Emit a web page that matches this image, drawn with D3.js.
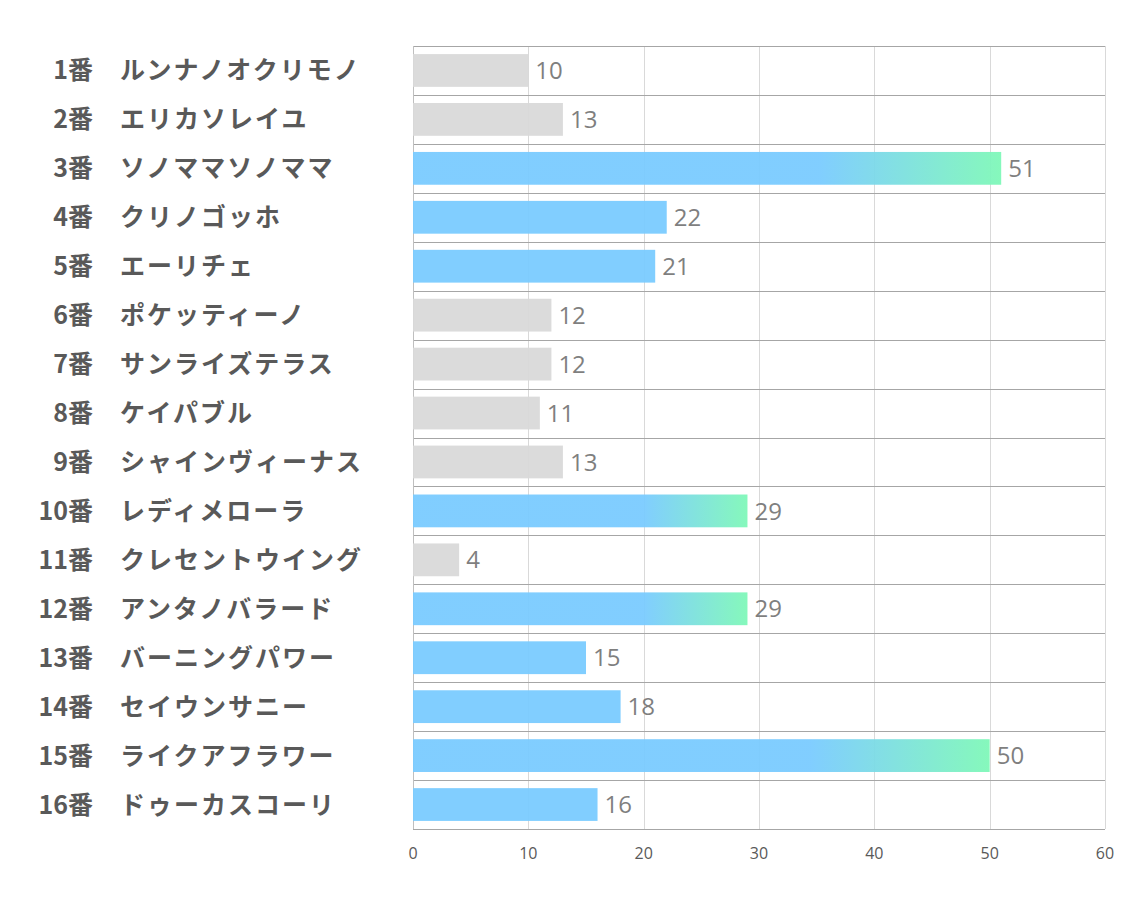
<!DOCTYPE html>
<html><head><meta charset="utf-8">
<script src="https://cdn.jsdelivr.net/npm/d3@7"></script>
<style>body{margin:0;background:#fff}</style>
</head><body>
<svg id="c" width="1134" height="907"></svg>
<script>
const numbers = ["1番","2番","3番","4番","5番","6番","7番","8番","9番","10番","11番","12番","13番","14番","15番","16番"];
const names = ["ルンナノオクリモノ","エリカソレイユ","ソノママソノママ","クリノゴッホ","エーリチェ","ポケッティーノ","サンライズテラス","ケイパブル","シャインヴィーナス","レディメローラ","クレセントウイング","アンタノバラード","バーニングパワー","セイウンサニー","ライクアフラワー","ドゥーカスコーリ"];
const values = [10,13,51,22,21,12,12,11,13,29,4,29,15,18,50,16];
const kinds = ["gray","gray","grad","blue","blue","gray","gray","gray","gray","grad","gray","grad","blue","blue","grad","blue"];
const xTicks = [0,10,20,30,40,50,60];

(function(){
const svg = d3.select("#c");
const pL = 413, pR = 1105, pT = 46, pB = 829;
const x = d3.scaleLinear().domain([0,60]).range([pL,pR]);
const y = d3.scaleBand().domain(d3.range(values.length)).range([pT,pB]).paddingInner(0).paddingOuter(0);
const bh = y.bandwidth()*0.67;

const defs = svg.append("defs");
values.forEach((v,i)=>{
  if(kinds[i]==="grad"){
    const g = defs.append("linearGradient").attr("id","g"+i).attr("x1","0").attr("x2","1").attr("y1","0").attr("y2","0");
    g.append("stop").attr("offset","0.69").attr("stop-color","#7acbff");
    g.append("stop").attr("offset","1").attr("stop-color","#7ff8b8");
  }
});

svg.append("g").selectAll("line").data(xTicks).join("line")
  .attr("x1",d=>Math.round(x(d))+0.5).attr("x2",d=>Math.round(x(d))+0.5).attr("y1",pT).attr("y2",pB)
  .attr("stroke","#d9d9d9").attr("stroke-width",1);

svg.append("g").selectAll("line").data(d3.range(values.length+1)).join("line")
  .attr("x1",pL).attr("x2",pR)
  .attr("y1",d=>Math.round(pT+d*y.step())+0.5).attr("y2",d=>Math.round(pT+d*y.step())+0.5)
  .attr("stroke","#a6a6a6").attr("stroke-width",1);

svg.append("line").attr("x1",pL+0.5).attr("x2",pL+0.5).attr("y1",pT).attr("y2",pB)
  .attr("stroke","#bfbfbf");

svg.append("g").selectAll("rect").data(values).join("rect")
  .attr("x",x(0)).attr("y",(d,i)=>y(i)+(y.bandwidth()-bh)/2)
  .attr("width",d=>x(d)-x(0)).attr("height",bh)
  .attr("fill",(d,i)=>kinds[i]==="gray"?"#d9d9d9":kinds[i]==="blue"?"#7acbff":`url(#g${i})`)
  .attr("fill-opacity",0.95);

svg.append("g").selectAll("text").data(values).join("text")
  .attr("x",d=>x(d)+7).attr("y",(d,i)=>y(i)+y.bandwidth()/2)
  .attr("dy","0.36em").attr("font-family","'Open Sans','Noto Sans',sans-serif")
  .attr("font-size",24).attr("fill","#7f7f7f").text(d=>d);

const lab = svg.append("g").attr("font-family","'Noto Sans CJK JP','Noto Sans',sans-serif")
  .attr("font-weight","bold").attr("font-size",25).attr("fill","#595959");
lab.selectAll("text.n").data(numbers).join("text").attr("class","n")
  .attr("x",93).attr("y",(d,i)=>y(i)+y.bandwidth()/2).attr("dy","0.36em")
  .attr("text-anchor","end").text(d=>d);
lab.selectAll("text.m").data(names).join("text").attr("class","m")
  .attr("x",120).attr("y",(d,i)=>y(i)+y.bandwidth()/2).attr("dy","0.36em")
  .attr("letter-spacing",2)
  .attr("text-anchor","start").text(d=>d);

svg.append("g").selectAll("text").data(xTicks).join("text")
  .attr("x",d=>x(d)).attr("y",853).attr("dy","0.36em").attr("text-anchor","middle")
  .attr("font-family","'Open Sans','Noto Sans',sans-serif").attr("font-size",16).attr("fill","#595959")
  .text(d=>d);
})();
</script>
</body></html>
